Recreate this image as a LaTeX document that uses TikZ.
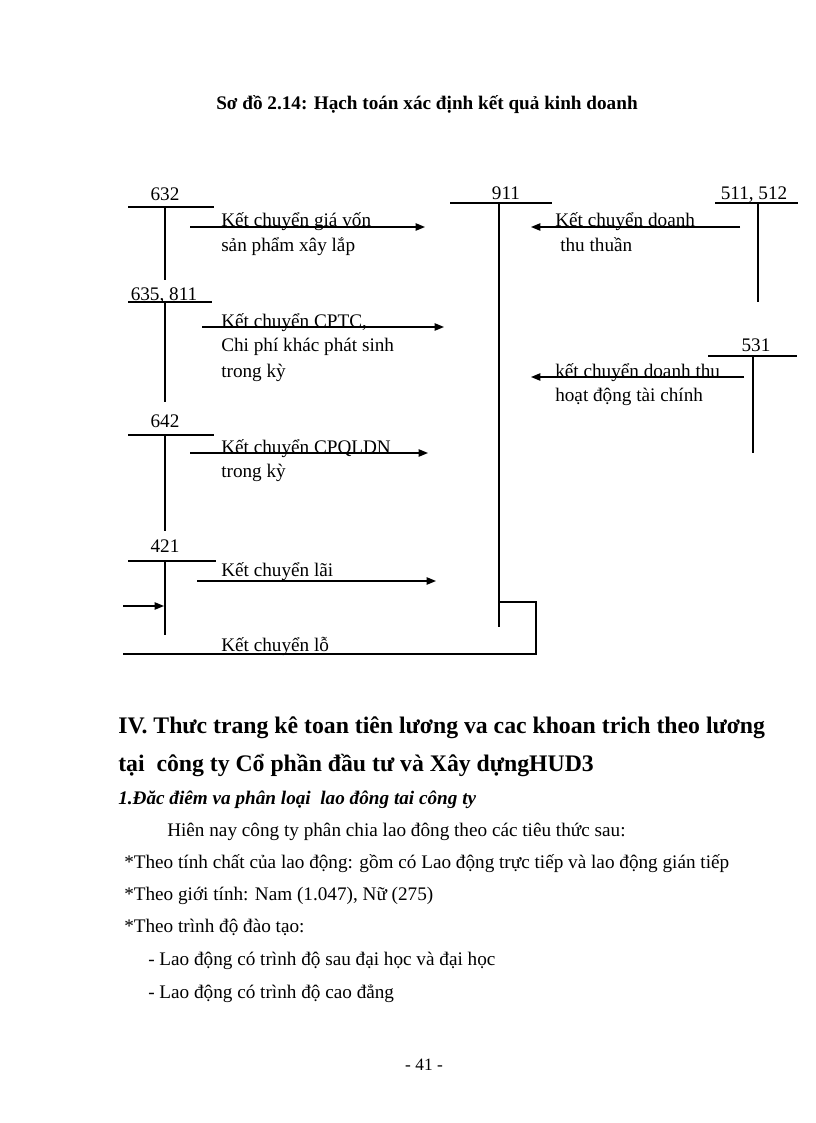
\documentclass[tikz,border=0pt]{standalone}
\usepackage{fontspec}
\setmainfont{Liberation Serif}
\usepackage{tikz}
\usetikzlibrary{arrows.meta}

\tikzset{
  tline/.style={black, line width=1.3pt},
  flow/.style={black, line width=1pt, -{Triangle[length=7pt, width=5.5pt]}},
  acc/.style={font=\fontsize{14.4}{16}\selectfont, inner sep=0pt, anchor=base},
  lbl/.style={font=\fontsize{14.4}{16}\selectfont, inner sep=0pt, anchor=base west},
  body/.style={font=\fontsize{14.4}{16}\selectfont, inner sep=0pt, anchor=base west},
  head/.style={font=\fontsize{17.8}{20}\selectfont\bfseries, inner sep=0pt, anchor=base west}
}

\begin{document}
\begin{tikzpicture}[x=0.75pt, y=-0.75pt]

  % -- page ------------------------------------------------------------------
  \fill[white] (0,0) rectangle (816,1123);
  \useasboundingbox (0,0) rectangle (816,1123);

  \node[font=\fontsize{14.4}{16}\selectfont\bfseries, inner sep=0pt, anchor=base] (title)
    at (427,110) {Sơ đồ 2.14: Hạch toán xác định kết quả kinh doanh};

  % -- T accounts: name / label / label x,y / bar from,to / stem x / top,bottom
  \foreach \nm/\lab/\lx/\ly/\xa/\xb/\xv/\yt/\yb in {
      t632/632/165/201/128/214/165/207/280,
      t635/{635, 811}/164/300/128/212/165/302/402,
      t642/642/165/427/128/214/165/435/531,
      t421/421/165/552/128/216/165/561/635,
      t911/911/506/200/450/552/499/203/627,
      t511/{511, 512}/754/200/715/798/758/203/302,
      t531/531/756/351/708/797/753/356/453}{
    \node[acc] (\nm) at (\lx,\ly) {\lab};
    \draw[tline] (\xa,\yt) -- (\xb,\yt);
    \draw[tline] (\xv,\yt) -- (\xv,\yb);
  }

  % -- arrow ends ----------------------------------------------------------
  \coordinate (g1) at (190,227);  \coordinate (g2) at (425,227);
  \coordinate (c1) at (202,327);  \coordinate (c2) at (444,327);
  \coordinate (q1) at (190,453);  \coordinate (q2) at (428,453);
  \coordinate (l1) at (197,581);  \coordinate (l2) at (436,581);
  \coordinate (d1) at (740,227);  \coordinate (d2) at (531,227);
  \coordinate (f1) at (744,377);  \coordinate (f2) at (531,377);
  \coordinate (s1) at (499,602);  \coordinate (s2) at (536,602);
  \coordinate (s3) at (536,654);  \coordinate (s4) at (123,654);
  \coordinate (r1) at (123,606);  \coordinate (r2) at (164,606);

  % -- transfers into 911 ---------------------------------------------------
  \draw[flow] (g1) -- (g2);
  \node[lbl] (tg1) at (221,227) {Kết chuyển giá vốn};
  \node[lbl] (tg2) at (221,251) {sản phẩm xây lắp};

  \draw[flow] (c1) -- (c2);
  \node[lbl] (tc1) at (221,327) {Kết chuyển CPTC,};
  \node[lbl] (tc2) at (221,351) {Chi phí khác phát sinh};
  \node[lbl] (tc3) at (221,377) {trong kỳ};

  \draw[flow] (q1) -- (q2);
  \node[lbl] (tq1) at (221,453) {Kết chuyển CPQLDN};
  \node[lbl] (tq2) at (221,477) {trong kỳ};

  \draw[flow] (l1) -- (l2);
  \node[lbl] (tl1) at (221,576) {Kết chuyển lãi};

  \draw[flow] (d1) -- (d2);
  \node[lbl] (td1) at (555,227) {Kết chuyển doanh};
  \node[lbl] (td2) at (560,251) {thu thuần};

  \draw[flow] (f1) -- (f2);
  \node[lbl] (tf1) at (555,377) {kết chuyển doanh thu};
  \node[lbl] (tf2) at (555,401) {hoạt động tài chính};

  % -- loss back to 421 ------------------------------------------------------
  \draw[black, line width=1pt] (s1) -- (s2) -- (s3) -- (s4);
  \draw[flow] (r1) -- (r2);
  \node[lbl] (ts1) at (221,651) {Kết chuyển lỗ};

  % -- text below the diagram ---------------------------------------------
  \node[head] (h1) at (118,733) {IV. Thưc trang kê toan tiên lương va cac khoan trich theo lương};
  \node[head] (h2) at (118,771) {tại\ \ công ty Cổ phần đầu tư và Xây dựngHUD3};
  \node[font=\fontsize{14.4}{16}\selectfont\bfseries\itshape, inner sep=0pt, anchor=base west] (h3)
    at (118,804) {1.Đăc điêm va phân loại\ \ lao đông tai công ty};
  \node[body] (p1) at (167,836) {Hiên nay công ty phân chia lao đông theo các tiêu thức sau:};
  \node[body] (p2) at (124,868) {*Theo tính chất của lao động: gồm có Lao động trực tiếp và lao động gián tiếp};
  \node[body] (p3) at (124,900) {*Theo giới tính: Nam (1.047), Nữ (275)};
  \node[body] (p4) at (124,932) {*Theo trình độ đào tạo:};
  \node[body] (p5) at (148,965) {- Lao động có trình độ sau đại học và đại học};
  \node[body] (p6) at (148,998) {- Lao động có trình độ cao đẳng};

  \node[font=\fontsize{13}{15}\selectfont, inner sep=0pt, anchor=base] (pg) at (424,1070) {- 41 -};

\end{tikzpicture}
\end{document}
